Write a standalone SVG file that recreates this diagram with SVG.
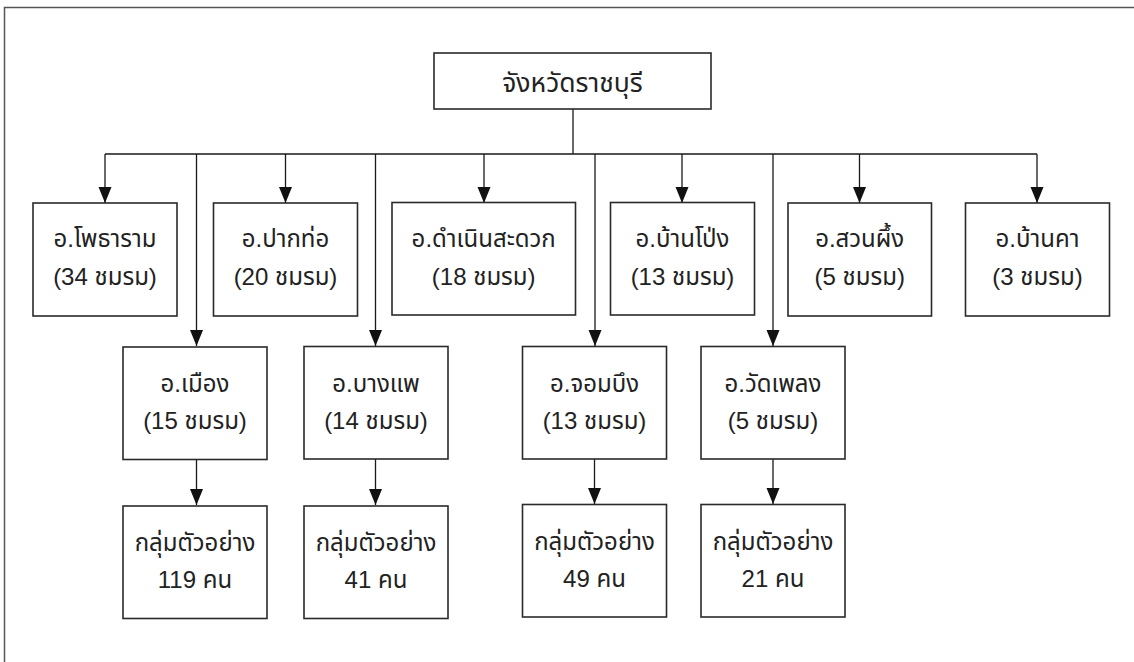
<svg xmlns="http://www.w3.org/2000/svg" width="1134" height="662" viewBox="0 0 1134 662">
<style>
.box{fill:#fff;stroke:#2a2a2a;stroke-width:1.6}
.ln{fill:none;stroke:#1a1a1a;stroke-width:1.3}
.frame{fill:none;stroke:#555;stroke-width:1.5}
text{font-family:"Liberation Sans","Noto Sans Thai","Noto Sans",sans-serif;font-size:24px;fill:#222;text-anchor:middle}
.big{font-size:26.5px}
</style>
<defs>
<marker id="ah" markerUnits="userSpaceOnUse" markerWidth="17" markerHeight="14" refX="16" refY="6.5" orient="auto">
<path d="M0,0 L16,6.5 L0,13 z" fill="#111"/>
</marker>
</defs>
<path class="frame" d="M1134,7.5 H4.5 V662"/>
<g id="connectors">
<path class="ln" d="M573,109 V154 M105,154 H1037"/>
<path class="ln" marker-end="url(#ah)" d="M105,154 V203"/>
<path class="ln" marker-end="url(#ah)" d="M196.5,154 V346"/>
<path class="ln" marker-end="url(#ah)" d="M285.5,154 V203"/>
<path class="ln" marker-end="url(#ah)" d="M375.5,154 V346"/>
<path class="ln" marker-end="url(#ah)" d="M484,154 V203"/>
<path class="ln" marker-end="url(#ah)" d="M595,154 V346"/>
<path class="ln" marker-end="url(#ah)" d="M682,154 V203"/>
<path class="ln" marker-end="url(#ah)" d="M773,154 V346"/>
<path class="ln" marker-end="url(#ah)" d="M859.5,154 V203"/>
<path class="ln" marker-end="url(#ah)" d="M1037,154 V203"/>
<path class="ln" marker-end="url(#ah)" d="M196.5,459 V505"/>
<path class="ln" marker-end="url(#ah)" d="M375.5,459 V505"/>
<path class="ln" marker-end="url(#ah)" d="M594.5,459 V504"/>
<path class="ln" marker-end="url(#ah)" d="M773,459 V504"/>
</g>
<g id="n-ratchaburi"><rect class="box" x="434" y="53" width="277" height="56"/><text class="big" x="572.5" y="92">จังหวัดราชบุรี</text></g>
<g id="n-photharam"><rect class="box" x="33" y="203" width="144" height="113"/><text x="105" y="247">อ.โพธาราม</text><text x="105" y="285">(34 ชมรม)</text></g>
<g id="n-pakthor"><rect class="box" x="213.5" y="203" width="144" height="113"/><text x="285.5" y="247">อ.ปากท่อ</text><text x="285.5" y="285">(20 ชมรม)</text></g>
<g id="n-damnoen"><rect class="box" x="392" y="202.5" width="183.5" height="112.5"/><text x="483.7" y="247">อ.ดำเนินสะดวก</text><text x="483.7" y="285">(18 ชมรม)</text></g>
<g id="n-banpong"><rect class="box" x="610.5" y="202.5" width="144" height="112.5"/><text x="682.5" y="247">อ.บ้านโป่ง</text><text x="682.5" y="285">(13 ชมรม)</text></g>
<g id="n-suanphueng"><rect class="box" x="788" y="203" width="143.5" height="113"/><text x="859.7" y="247">อ.สวนผึ้ง</text><text x="859.7" y="285">(5 ชมรม)</text></g>
<g id="n-bankha"><rect class="box" x="965.5" y="203" width="144" height="113"/><text x="1037.5" y="247">อ.บ้านคา</text><text x="1037.5" y="285">(3 ชมรม)</text></g>
<g id="n-mueang"><rect class="box" x="123" y="347" width="144" height="112.5"/><text x="195" y="392">อ.เมือง</text><text x="195" y="429">(15 ชมรม)</text></g>
<g id="n-bangphae"><rect class="box" x="304" y="346.5" width="144" height="112.5"/><text x="376" y="392">อ.บางแพ</text><text x="376" y="429">(14 ชมรม)</text></g>
<g id="n-chombueng"><rect class="box" x="522.5" y="346.5" width="144" height="112.5"/><text x="594.5" y="392">อ.จอมบึง</text><text x="594.5" y="429">(13 ชมรม)</text></g>
<g id="n-watphleng"><rect class="box" x="701" y="346.5" width="144" height="112.5"/><text x="773" y="392">อ.วัดเพลง</text><text x="773" y="429">(5 ชมรม)</text></g>
<g id="s-mueang"><rect class="box" x="123" y="506" width="144" height="112.5"/><text x="195" y="551">กลุ่มตัวอย่าง</text><text x="195" y="588">119 คน</text></g>
<g id="s-bangphae"><rect class="box" x="304" y="506" width="144" height="112.5"/><text x="376" y="551">กลุ่มตัวอย่าง</text><text x="376" y="588">41 คน</text></g>
<g id="s-chombueng"><rect class="box" x="522.5" y="504.5" width="144" height="112.5"/><text x="594.5" y="550">กลุ่มตัวอย่าง</text><text x="594.5" y="587">49 คน</text></g>
<g id="s-watphleng"><rect class="box" x="701" y="504.5" width="144" height="112.5"/><text x="773" y="550">กลุ่มตัวอย่าง</text><text x="773" y="587">21 คน</text></g>
</svg>
